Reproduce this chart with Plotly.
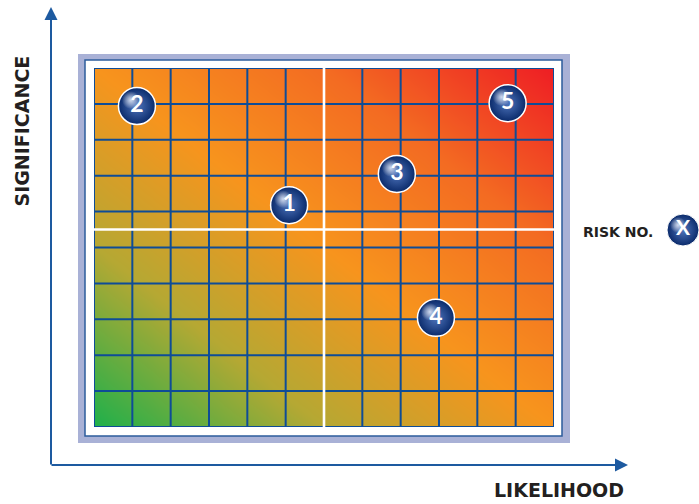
import numpy as np
import plotly.graph_objects as go

# ---- data ----
risk_ids = ["1", "2", "3", "4", "5"]
likelihood = [5.09, 1.12, 7.9, 8.92, 10.79]      # column units (0..12)
significance = [6.18, 8.94, 7.05, 3.04, 9.02]    # row units (0..10)
n_cols = 12
n_rows = 10
x_divider = 6
y_divider = 5.5
x_label = "LIKELIHOOD"
y_label = "SIGNIFICANCE"
legend_label = "RISK NO."
legend_symbol = "X"

W, H = 699, 504
L, R, T, B = 94, 554, 68, 427  # grid area in pixels


def X(px):
    return px / W


def Y(py):
    return 1 - py / H


fig = go.Figure()

# background gradient
gx = np.linspace(0, n_cols, 97)
gy = np.linspace(0, n_rows, 81)
GX, GY = np.meshgrid(gx, gy)
Z = GX / n_cols + GY / n_rows
fig.add_trace(go.Heatmap(
    x=gx, y=gy, z=Z, zmin=0, zmax=2, zsmooth="best", showscale=False,
    hoverinfo="skip",
    colorscale=[[0, "#1EB04B"], [0.25, "#B5A833"], [0.5, "#F7941D"],
                [0.75, "#F36B22"], [1, "#EE1D24"]],
))

# grid lines
gridc = "#0E4C97"
vx, vy = [], []
for c in range(n_cols + 1):
    vx += [c, c, None]
    vy += [0, n_rows, None]
hx, hy = [], []
for r in range(n_rows + 1):
    hx += [0, n_cols, None]
    hy += [r, r, None]
fig.add_trace(go.Scatter(x=vx + hx, y=vy + hy, mode="lines",
                         line=dict(color=gridc, width=2), hoverinfo="skip"))
# white dividers
fig.add_trace(go.Scatter(x=[x_divider, x_divider, None, 0, n_cols],
                         y=[0, n_rows, None, y_divider, y_divider],
                         mode="lines", line=dict(color="white", width=2.6),
                         hoverinfo="skip"))

sphere_edge = "#0A2A6A"
sphere_mid = "#4E74BC"
hl = "rgba(235,242,255,0.85)"

# spheres
fig.add_trace(go.Scatter(
    x=likelihood, y=significance, mode="markers",
    marker=dict(size=37, color=sphere_edge,
                gradient=dict(type="radial", color=sphere_mid),
                line=dict(color="white", width=1.5)),
    hoverinfo="skip"))
# highlight (offset up-left)
cw = (R - L) / n_cols
rh = (B - T) / n_rows
fig.add_trace(go.Scatter(
    x=[v - 6 / cw for v in likelihood], y=[v + 6 / rh for v in significance],
    mode="markers",
    marker=dict(size=18, color="rgba(255,255,255,0)",
                gradient=dict(type="radial", color=hl),
                line=dict(width=0)),
    hoverinfo="skip"))
fig.add_trace(go.Scatter(
    x=likelihood, y=significance, mode="text", text=risk_ids,
    textposition="middle center",
    textfont=dict(family="Lato", size=23, color="white", weight="bold"),
    hoverinfo="skip"))

# legend bubble on its own small axes
fig.add_trace(go.Scatter(
    x=[0.5], y=[0.5], mode="markers", xaxis="x2", yaxis="y2",
    marker=dict(size=32, color=sphere_edge,
                gradient=dict(type="radial", color=sphere_mid),
                line=dict(color="white", width=1)),
    hoverinfo="skip"))
fig.add_trace(go.Scatter(
    x=[0.5 - 5 / 32], y=[0.5 + 5 / 32], mode="markers", xaxis="x2", yaxis="y2",
    marker=dict(size=16, color="rgba(255,255,255,0)",
                gradient=dict(type="radial", color=hl),
                line=dict(width=0)),
    hoverinfo="skip"))
fig.add_trace(go.Scatter(
    x=[0.5], y=[0.5], mode="text", text=[legend_symbol], xaxis="x2", yaxis="y2",
    textposition="middle center",
    textfont=dict(family="Lato", size=21, color="white", weight="bold"),
    hoverinfo="skip"))

shapes = [
    dict(type="rect", xref="paper", yref="paper", layer="below",
         x0=X(78), x1=X(570), y0=Y(443), y1=Y(54),
         fillcolor="#A9B1D6", line=dict(width=0)),
    dict(type="rect", xref="paper", yref="paper", layer="below",
         x0=X(85), x1=X(562), y0=Y(436), y1=Y(60),
         fillcolor="white", line=dict(color="#2D5C9C", width=1.5)),
]

axc = "#1D5AA0"
annotations = [
    dict(xref="paper", yref="paper", x=X(51), y=Y(7), ax=0, ay=459,
         axref="pixel", ayref="pixel", text="", showarrow=True,
         arrowhead=2, arrowsize=1.3, arrowwidth=2, arrowcolor=axc),
    dict(xref="paper", yref="paper", x=X(628), y=Y(465), ax=-578, ay=0,
         axref="pixel", ayref="pixel", text="", showarrow=True,
         arrowhead=2, arrowsize=1.3, arrowwidth=2, arrowcolor=axc),
    dict(xref="paper", yref="paper", x=X(21.5), y=Y(131), text=y_label,
         textangle=-90, showarrow=False, xanchor="center", yanchor="middle",
         font=dict(family="DejaVu Sans", size=19, color="#231F20", weight="bold")),
    dict(xref="paper", yref="paper", x=X(559), y=Y(503), text=x_label,
         showarrow=False, xanchor="center", yanchor="bottom",
         font=dict(family="DejaVu Sans", size=19, color="#231F20", weight="bold")),
    dict(xref="paper", yref="paper", x=X(618), y=Y(232), text=legend_label,
         showarrow=False, xanchor="center", yanchor="middle",
         font=dict(family="DejaVu Sans", size=14, color="#231F20", weight="bold")),
]

fig.update_layout(
    width=W, height=H, margin=dict(l=0, r=0, t=0, b=0, pad=0),
    paper_bgcolor="white", plot_bgcolor="rgba(0,0,0,0)", showlegend=False,
    xaxis=dict(range=[0, n_cols], domain=[X(L), X(R)], visible=False,
               fixedrange=True),
    yaxis=dict(range=[0, n_rows], domain=[Y(B), Y(T)], visible=False,
               fixedrange=True),
    xaxis2=dict(range=[0, 1], domain=[X(667), X(699)], visible=False,
                fixedrange=True, anchor="y2"),
    yaxis2=dict(range=[0, 1], domain=[Y(246), Y(214)], visible=False,
                fixedrange=True, anchor="x2"),
    shapes=shapes, annotations=annotations,
)

fig.write_html("out.html")
